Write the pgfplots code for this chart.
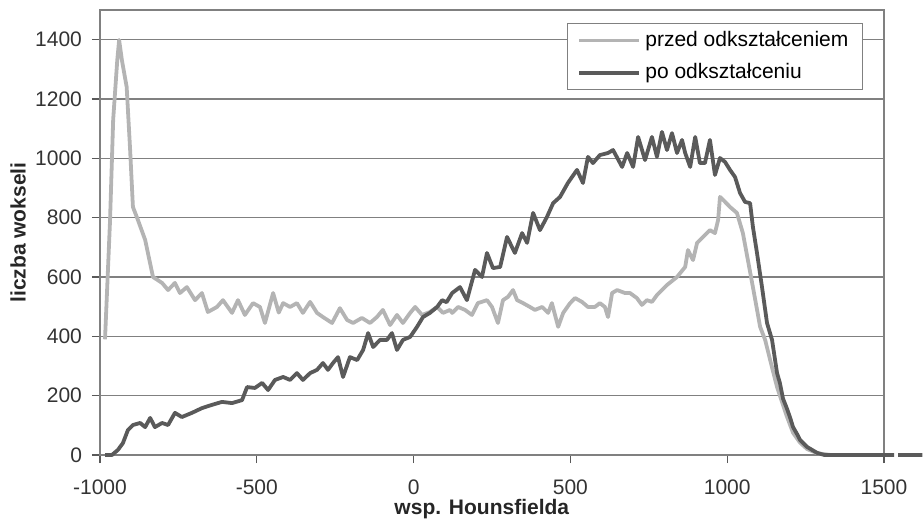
\documentclass[border=0pt]{standalone}
\usepackage{pgfplots}
\pgfplotsset{compat=1.18}
\usepackage{fontspec}
\setmainfont{Liberation Sans}
\definecolor{lightser}{HTML}{B4B4B4}
\definecolor{darkser}{HTML}{5A5A5A}
\definecolor{gridc}{HTML}{808080}
\begin{document}
\begin{tikzpicture}
\path[use as bounding box] (-50pt,-35.5pt) rectangle (411.5pt,227.5pt);
\begin{axis}[
  at={(0,0)}, anchor=south west,
  scale only axis, width=392pt, height=222.5pt,
  xmin=-1000, xmax=1500, ymin=0, ymax=1500,
  xtick={-1000,-500,0,500,1000,1500},
  ytick={0,200,...,1400},
  ymajorgrids, grid style={gridc, line width=0.6pt},
  axis line style={gridc, line width=0.7pt},
  tick style={black!65, line width=0.6pt},
  tick align=outside, major tick length=4pt,
  xtick pos=bottom, ytick pos=left,
  /pgf/number format/assume math mode=true,
  /pgf/number format/set thousands separator={},
  ticklabel style={font=\fontsize{10.5}{12}\selectfont, text=black!80},
  xticklabel shift=5pt, yticklabel shift=1.5pt,
  xlabel={wsp. Hounsfielda}, ylabel={liczba wokseli},
  label style={font=\fontsize{10.5}{12}\selectfont\bfseries, text=black!85},
  xlabel style={at={(axis description cs:0.487,0)}, anchor=center, yshift=-27pt},
  ylabel style={at={(axis description cs:0,0.5)}, anchor=center, yshift=41pt},
  clip=false, unbounded coords=jump,
  legend style={at={(rel axis cs:0.973,0.971)}, anchor=north east, draw=gridc, fill=white,
    font=\fontsize{10.5}{12}\selectfont, inner xsep=5pt, inner ysep=2pt, row sep=3pt},
  legend cell align=left,
  legend image code/.code={\draw[#1] (-2pt,0pt) -- (28pt,0pt);},
]
\addplot[lightser, line width=1.9pt, line join=round] coordinates {
(-984,390) (-968,790) (-958,1130) (-945,1330) (-939,1399) (-930,1330) (-915,1241)
(-904,1030) (-895,836) (-879,792) (-856,725) (-831,600) (-802,580) (-783,556)
(-761,580) (-745,546) (-723,566) (-697,522) (-675,546) (-656,482) (-627,499)
(-608,522) (-579,479) (-560,522) (-538,472) (-512,512) (-490,499) (-474,445)
(-448,546) (-430,480) (-416,512) (-394,499) (-372,512) (-353,479) (-330,516)
(-308,479) (-289,465) (-260,445) (-235,495) (-212,455) (-193,445) (-165,462)
(-139,445) (-117,465) (-98,489) (-75,438) (-53,472) (-34,445) (-11,479) (5,499)
(27,472) (52,482) (75,499) (94,479) (116,489) (123,479) (142,499) (164,489)
(186,472) (205,512) (234,522) (250,499) (269,445) (285,522) (301,533) (317,556)
(330,522) (349,512) (371,499) (387,489) (410,499) (429,479) (441,512) (461,432)
(477,479) (499,512) (515,529) (537,516) (556,499) (578,499) (594,512) (610,499)
(620,465) (633,546) (649,556) (674,546) (690,546) (712,529) (728,506) (744,522)
(760,516) (776,539) (808,573) (840,600) (866,634) (875,691) (891,657) (904,715)
(923,735) (945,758) (961,748) (971,792) (977,870) (987,860) (1009,836) (1031,816)
(1050,748) (1066,657) (1082,566) (1105,432) (1121,388) (1137,320) (1159,229)
(1191,128) (1210,75) (1232,42) (1255,20) (1287,6) (1330,0) (1400,0) (1500,0)
};
\addlegendentry{przed odkształceniem}
\addplot[darkser, line width=1.9pt, line join=round] coordinates {
(-984,0) (-962,0) (-943,17) (-927,40) (-911,84) (-895,101) (-872,108) (-856,94)
(-840,125) (-825,94) (-802,108) (-783,101) (-761,142) (-739,128) (-707,142)
(-675,158) (-643,169) (-611,179) (-579,175) (-547,185) (-531,229) (-506,226)
(-483,243) (-464,219) (-442,253) (-416,263) (-394,253) (-372,276) (-353,253)
(-330,276) (-308,287) (-289,310) (-273,287) (-257,310) (-241,330) (-225,263)
(-203,330) (-180,320) (-161,354) (-145,411) (-129,364) (-107,388) (-85,388)
(-69,411) (-53,354) (-34,388) (-11,398) (11,432) (30,465) (52,479) (75,499)
(91,522) (105,515) (123,546) (148,566) (170,522) (196,624) (218,600) (234,681)
(253,630) (276,634) (298,735) (323,681) (346,748) (362,715) (381,816) (403,758)
(425,802) (445,849) (467,870) (492,917) (521,961) (540,917) (556,1005) (572,984)
(594,1011) (620,1018) (636,1028) (665,971) (681,1018) (700,971) (716,1072)
(738,994) (760,1072) (776,1005) (792,1089) (808,1028) (824,1085) (840,1018)
(856,1062) (866,1018) (882,971) (898,1072) (913,984) (929,984) (945,1062)
(961,944) (977,1001) (993,988) (1009,961) (1025,937) (1041,883) (1057,853)
(1073,849) (1082,769) (1095,681) (1111,566) (1127,445) (1143,388) (1159,276)
(1168,243) (1178,190) (1191,155) (1200,128) (1210,94) (1223,70) (1232,51)
(1255,27) (1287,7) (1310,0) (1400,0) (1532,0) (1538,nan) (1545,0) (1622,0)
};
\addlegendentry{po odkształceniu}
\end{axis}
\end{tikzpicture}
\end{document}
